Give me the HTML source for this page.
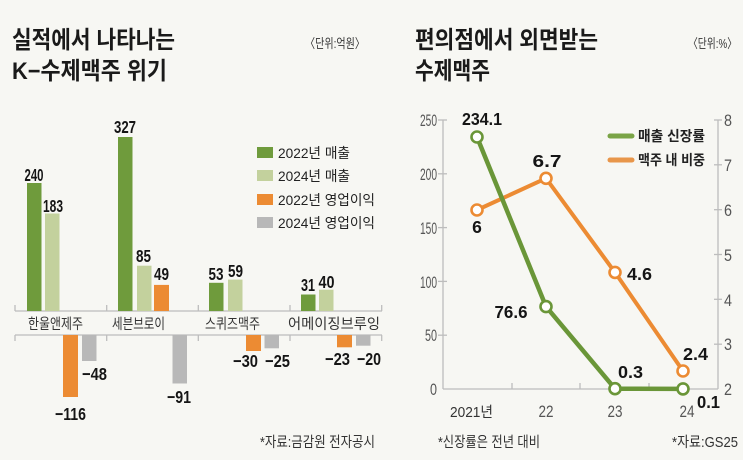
<!DOCTYPE html>
<html><head><meta charset="utf-8"><style>
html,body{margin:0;padding:0;background:#f7f7f3;}
svg{display:block;}
text{font-family:"Liberation Sans","Noto Sans CJK KR",sans-serif;}
.t{font-weight:bold;font-size:24px;fill:#1a1a1a;}
.u{font-size:13px;fill:#333;}
.n{font-weight:bold;font-size:17.5px;fill:#151515;font-family:"Liberation Sans Narrow","Liberation Sans",sans-serif;}
.c{font-size:14.5px;fill:#333;}
.ax{font-size:17px;fill:#555;font-family:"Liberation Sans Narrow","Liberation Sans",sans-serif;}
.lg{font-size:14px;fill:#222;}
.lgb{font-size:14px;fill:#222;font-weight:bold;}
</style></head><body>
<svg width="743" height="460" viewBox="0 0 743 460" xmlns="http://www.w3.org/2000/svg">
<rect width="743" height="460" fill="#f7f7f3"/>

<!-- LEFT PANEL -->
<text class="t" x="12" y="48" textLength="163" lengthAdjust="spacingAndGlyphs">실적에서 나타나는</text>
<text class="t" x="12" y="79" textLength="155" lengthAdjust="spacingAndGlyphs">K−수제맥주 위기</text>
<text class="u" x="305" y="48" textLength="60" lengthAdjust="spacingAndGlyphs">〈단위:억원〉</text>

<!-- legend -->
<rect x="257" y="147" width="16" height="11" fill="#6f9b3c"/>
<text class="lg" x="278" y="158" textLength="72" lengthAdjust="spacingAndGlyphs">2022년 매출</text>
<rect x="257" y="170" width="16" height="11" fill="#c3d19d"/>
<text class="lg" x="278" y="181" textLength="72" lengthAdjust="spacingAndGlyphs">2024년 매출</text>
<rect x="257" y="194" width="16" height="11" fill="#ec8b33"/>
<text class="lg" x="278" y="205" textLength="97" lengthAdjust="spacingAndGlyphs">2022년 영업이익</text>
<rect x="257" y="217" width="16" height="11" fill="#b8b8b8"/>
<text class="lg" x="278" y="228" textLength="97" lengthAdjust="spacingAndGlyphs">2024년 영업이익</text>

<!-- axis lines -->
<g stroke="#bdbdbd" stroke-width="1.3" fill="none">
<line x1="15" y1="311" x2="382" y2="311"/>
<line x1="15" y1="335" x2="382" y2="335"/>
<line x1="15" y1="305" x2="15" y2="311"/><line x1="15" y1="335" x2="15" y2="341"/>
<line x1="106.7" y1="305" x2="106.7" y2="311"/><line x1="106.7" y1="335" x2="106.7" y2="341"/>
<line x1="198.3" y1="305" x2="198.3" y2="311"/><line x1="198.3" y1="335" x2="198.3" y2="341"/>
<line x1="290" y1="305" x2="290" y2="311"/><line x1="290" y1="335" x2="290" y2="341"/>
<line x1="381.7" y1="305" x2="381.7" y2="311"/><line x1="381.7" y1="335" x2="381.7" y2="341"/>
</g>

<!-- bars group1 -->
<rect x="27" y="183" width="14.5" height="128" fill="#6f9b3c"/>
<rect x="45" y="213.5" width="14.5" height="97.5" fill="#c3d19d"/>
<rect x="63" y="335" width="15" height="62" fill="#ec8b33"/>
<rect x="82" y="335" width="14.5" height="26" fill="#b8b8b8"/>
<!-- group2 -->
<rect x="118" y="137" width="14.5" height="174" fill="#6f9b3c"/>
<rect x="137" y="265.7" width="14.5" height="45.3" fill="#c3d19d"/>
<rect x="154" y="284.9" width="15" height="26.1" fill="#ec8b33"/>
<rect x="172.5" y="335" width="14.5" height="48.5" fill="#b8b8b8"/>
<!-- group3 -->
<rect x="209" y="282.8" width="14.5" height="28.2" fill="#6f9b3c"/>
<rect x="228" y="279.6" width="14.5" height="31.4" fill="#c3d19d"/>
<rect x="246" y="335" width="15" height="16" fill="#ec8b33"/>
<rect x="264.5" y="335" width="14.5" height="13.3" fill="#b8b8b8"/>
<!-- group4 -->
<rect x="301" y="294.5" width="14.5" height="16.5" fill="#6f9b3c"/>
<rect x="319" y="289.7" width="14.5" height="21.3" fill="#c3d19d"/>
<rect x="337" y="335" width="15" height="12.3" fill="#ec8b33"/>
<rect x="356" y="335" width="14.5" height="10.7" fill="#b8b8b8"/>

<!-- category labels -->
<text class="c" x="55.5" y="329" text-anchor="middle" textLength="55" lengthAdjust="spacingAndGlyphs">한울앤제주</text>
<text class="c" x="138.5" y="329" text-anchor="middle" textLength="53" lengthAdjust="spacingAndGlyphs">세븐브로이</text>
<text class="c" x="232.5" y="329" text-anchor="middle" textLength="55" lengthAdjust="spacingAndGlyphs">스퀴즈맥주</text>
<text class="c" x="334" y="329" text-anchor="middle" textLength="92" lengthAdjust="spacingAndGlyphs">어메이징브루잉</text>

<!-- value labels -->
<text class="n" x="34" y="181" text-anchor="middle" textLength="19" lengthAdjust="spacingAndGlyphs">240</text>
<text class="n" x="53" y="212" text-anchor="middle" textLength="20" lengthAdjust="spacingAndGlyphs">183</text>
<text class="n" x="125" y="133" text-anchor="middle" textLength="22" lengthAdjust="spacingAndGlyphs">327</text>
<text class="n" x="143.5" y="262" text-anchor="middle" textLength="15" lengthAdjust="spacingAndGlyphs">85</text>
<text class="n" x="161.5" y="280" text-anchor="middle" textLength="15" lengthAdjust="spacingAndGlyphs">49</text>
<text class="n" x="216" y="280" text-anchor="middle" textLength="15" lengthAdjust="spacingAndGlyphs">53</text>
<text class="n" x="235.5" y="277" text-anchor="middle" textLength="15" lengthAdjust="spacingAndGlyphs">59</text>
<text class="n" x="308" y="291" text-anchor="middle" textLength="14" lengthAdjust="spacingAndGlyphs">31</text>
<text class="n" x="326.5" y="288" text-anchor="middle" textLength="16" lengthAdjust="spacingAndGlyphs">40</text>

<text class="n" x="70.5" y="420" text-anchor="middle" textLength="31" lengthAdjust="spacingAndGlyphs">−116</text>
<text class="n" x="94.5" y="380" text-anchor="middle" textLength="25" lengthAdjust="spacingAndGlyphs">−48</text>
<text class="n" x="179" y="403" text-anchor="middle" textLength="24" lengthAdjust="spacingAndGlyphs">−91</text>
<text class="n" x="245.5" y="367" text-anchor="middle" textLength="25" lengthAdjust="spacingAndGlyphs">−30</text>
<text class="n" x="277.5" y="367" text-anchor="middle" textLength="25" lengthAdjust="spacingAndGlyphs">−25</text>
<text class="n" x="337.5" y="365" text-anchor="middle" textLength="25" lengthAdjust="spacingAndGlyphs">−23</text>
<text class="n" x="369" y="365" text-anchor="middle" textLength="24" lengthAdjust="spacingAndGlyphs">−20</text>

<text class="c" x="260" y="447" font-size="13.5" textLength="115" lengthAdjust="spacingAndGlyphs">*자료:금감원 전자공시</text>

<!-- RIGHT PANEL -->
<text class="t" x="415" y="48" textLength="183" lengthAdjust="spacingAndGlyphs">편의점에서 외면받는</text>
<text class="t" x="415" y="79" textLength="75" lengthAdjust="spacingAndGlyphs">수제맥주</text>
<text class="u" x="688" y="48" textLength="49" lengthAdjust="spacingAndGlyphs">〈단위:%〉</text>

<g stroke="#bdbdbd" stroke-width="1.3" fill="none">
<line x1="443" y1="120" x2="443" y2="389"/>
<line x1="443" y1="389" x2="718" y2="389"/>
<line x1="718" y1="120" x2="718" y2="389"/>
<line x1="438" y1="120" x2="447" y2="120"/>
<line x1="438" y1="173.8" x2="447" y2="173.8"/>
<line x1="438" y1="227.6" x2="447" y2="227.6"/>
<line x1="438" y1="281.4" x2="447" y2="281.4"/>
<line x1="438" y1="335.2" x2="447" y2="335.2"/>
<line x1="714" y1="120" x2="722" y2="120"/>
<line x1="714" y1="164.8" x2="722" y2="164.8"/>
<line x1="714" y1="209.7" x2="722" y2="209.7"/>
<line x1="714" y1="254.5" x2="722" y2="254.5"/>
<line x1="714" y1="299.3" x2="722" y2="299.3"/>
<line x1="714" y1="344.2" x2="722" y2="344.2"/>
<line x1="512" y1="383" x2="512" y2="389"/>
<line x1="580" y1="383" x2="580" y2="389"/>
<line x1="649" y1="383" x2="649" y2="389"/>
</g>

<!-- left axis labels -->
<text class="ax" x="437" y="126" text-anchor="end" textLength="17" lengthAdjust="spacingAndGlyphs">250</text>
<text class="ax" x="437" y="180" text-anchor="end" textLength="17" lengthAdjust="spacingAndGlyphs">200</text>
<text class="ax" x="437" y="234" text-anchor="end" textLength="17" lengthAdjust="spacingAndGlyphs">150</text>
<text class="ax" x="437" y="288" text-anchor="end" textLength="17" lengthAdjust="spacingAndGlyphs">100</text>
<text class="ax" x="437" y="341" text-anchor="end" textLength="12" lengthAdjust="spacingAndGlyphs">50</text>
<text class="ax" x="437" y="395" text-anchor="end" textLength="7" lengthAdjust="spacingAndGlyphs">0</text>
<!-- right axis labels -->
<text class="ax" x="724" y="126" textLength="8" lengthAdjust="spacingAndGlyphs">8</text>
<text class="ax" x="724" y="171" textLength="8" lengthAdjust="spacingAndGlyphs">7</text>
<text class="ax" x="724" y="216" textLength="8" lengthAdjust="spacingAndGlyphs">6</text>
<text class="ax" x="724" y="261" textLength="8" lengthAdjust="spacingAndGlyphs">5</text>
<text class="ax" x="724" y="306" textLength="8" lengthAdjust="spacingAndGlyphs">4</text>
<text class="ax" x="724" y="350" textLength="8" lengthAdjust="spacingAndGlyphs">3</text>
<text class="ax" x="724" y="395" textLength="8" lengthAdjust="spacingAndGlyphs">2</text>
<!-- x labels -->
<text class="c" x="471.5" y="417" text-anchor="middle" font-size="16" textLength="43" lengthAdjust="spacingAndGlyphs">2021년</text>
<text class="ax" x="546" y="417" text-anchor="middle" textLength="15" lengthAdjust="spacingAndGlyphs">22</text>
<text class="ax" x="615" y="417" text-anchor="middle" textLength="15" lengthAdjust="spacingAndGlyphs">23</text>
<text class="ax" x="687" y="417" text-anchor="middle" textLength="15" lengthAdjust="spacingAndGlyphs">24</text>

<!-- lines -->
<polyline points="477,210 546,178.3 615,272.4 683,371" fill="none" stroke="#ec8b33" stroke-width="4" stroke-linejoin="round"/>
<polyline points="477,137 546,306.6 615,388.7 683,388.9" fill="none" stroke="#6a9638" stroke-width="4.5" stroke-linejoin="round"/>
<g fill="#fff" stroke-width="2.6">
<circle cx="477" cy="210" r="5.5" stroke="#ec8b33"/>
<circle cx="546" cy="178.3" r="5.5" stroke="#ec8b33"/>
<circle cx="615" cy="272.4" r="5.5" stroke="#ec8b33"/>
<circle cx="683" cy="371" r="5.5" stroke="#ec8b33"/>
<circle cx="477" cy="137" r="5.5" stroke="#6a9638"/>
<circle cx="546" cy="306.6" r="5.5" stroke="#6a9638"/>
<circle cx="615" cy="388.7" r="5.5" stroke="#6a9638"/>
<circle cx="683" cy="388.9" r="5.5" stroke="#6a9638"/>
</g>

<!-- point labels -->
<text class="n" x="482" y="125" text-anchor="middle" textLength="40" lengthAdjust="spacingAndGlyphs">234.1</text>
<text class="n" x="547" y="167" text-anchor="middle" textLength="29" lengthAdjust="spacingAndGlyphs">6.7</text>
<text class="n" x="477" y="233" text-anchor="middle">6</text>
<text class="n" x="511" y="318" text-anchor="middle" textLength="33" lengthAdjust="spacingAndGlyphs">76.6</text>
<text class="n" x="627" y="280" textLength="25" lengthAdjust="spacingAndGlyphs">4.6</text>
<text class="n" x="618" y="378" textLength="25" lengthAdjust="spacingAndGlyphs">0.3</text>
<text class="n" x="683" y="360" textLength="25" lengthAdjust="spacingAndGlyphs">2.4</text>
<text class="n" x="697" y="408" textLength="23" lengthAdjust="spacingAndGlyphs">0.1</text>

<!-- legend -->
<line x1="610" y1="136" x2="632" y2="136" stroke="#7aa446" stroke-width="5" stroke-linecap="round"/>
<text class="lgb" x="638" y="141" textLength="67" lengthAdjust="spacingAndGlyphs">매출 신장률</text>
<line x1="610" y1="160" x2="632" y2="160" stroke="#e8964a" stroke-width="5" stroke-linecap="round"/>
<text class="lgb" x="638" y="165" textLength="67" lengthAdjust="spacingAndGlyphs">맥주 내 비중</text>

<text class="c" x="438" y="447" font-size="13.5" textLength="102" lengthAdjust="spacingAndGlyphs">*신장률은 전년 대비</text>
<text class="c" x="672" y="447" font-size="13.5" textLength="66" lengthAdjust="spacingAndGlyphs">*자료:GS25</text>
</svg>
</body></html>
